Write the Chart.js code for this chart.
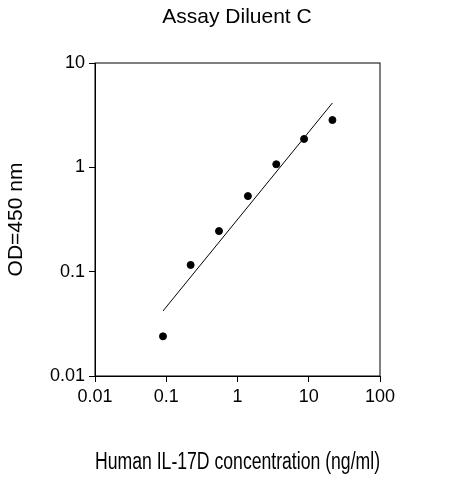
<!DOCTYPE html><html><head><script src="https://cdn.jsdelivr.net/npm/chart.js@4"></script>
<style>body{margin:0;background:#fff}</style></head><body>
<div style="width:463px;height:480px"><canvas id="c"></canvas></div>
<script>
const concentrations=[0.09,0.22,0.55,1.4,3.5,8.6,21.5];
const odValues=[0.024,0.116,0.245,0.53,1.07,1.87,2.84];
const fitX=[0.09,21.5];
const fitY=[0.042,4.14];
const decadeTicks=[0.01,0.1,1,10,100];
const F='Arial, "Liberation Sans", sans-serif';
const deco={id:'deco',afterDraw(ch){const c=ch.ctx,a=ch.chartArea;c.save();c.strokeStyle='#000';c.lineWidth=1;
c.strokeRect(a.left,a.top,a.right-a.left,a.bottom-a.top);
c.fillStyle='#000';c.font='21px '+F;c.textAlign='center';c.textBaseline='middle';c.fillText('Assay Diluent C',237,17);c.restore();}};
const dec=s=>{s.ticks=decadeTicks.map(v=>({value:v}));};
new Chart(document.getElementById('c'),{type:'scatter',data:{datasets:[
{data:concentrations.map((x,i)=>({x,y:odValues[i]})),backgroundColor:'#000',borderColor:'#000',pointRadius:3.5},
{data:fitX.map((x,i)=>({x,y:fitY[i]})),showLine:true,borderColor:'#000',borderWidth:1,pointRadius:0}]},
options:{animation:false,responsive:true,maintainAspectRatio:false,layout:{padding:{top:63,right:83,left:0,bottom:0}},
plugins:{legend:{display:false},tooltip:{enabled:false}},
scales:{x:{type:'logarithmic',min:0.01,max:100,afterBuildTicks:dec,afterFit:s=>{s.height=104},
grid:{drawOnChartArea:false,tickLength:6,color:'#000'},border:{color:'#000'},
ticks:{color:'#000',font:{size:18,family:F},callback:v=>String(v),maxRotation:0,padding:4},
title:{display:true,text:'Human IL-17D concentration (ng/ml)',color:'#000',font:{size:23,family:F},padding:{top:18}}},
y:{type:'logarithmic',min:0.01,max:10,afterBuildTicks:dec,afterFit:s=>{s.width=95},
grid:{drawOnChartArea:false,tickLength:6,color:'#000'},border:{color:'#000'},
ticks:{color:'#000',font:{size:18,family:F},callback:v=>String(v),padding:4},
title:{display:true,text:'OD=450 nm',color:'#000',font:{size:21,family:F},padding:{bottom:2}}}}},
plugins:[deco]});
</script></body></html>
